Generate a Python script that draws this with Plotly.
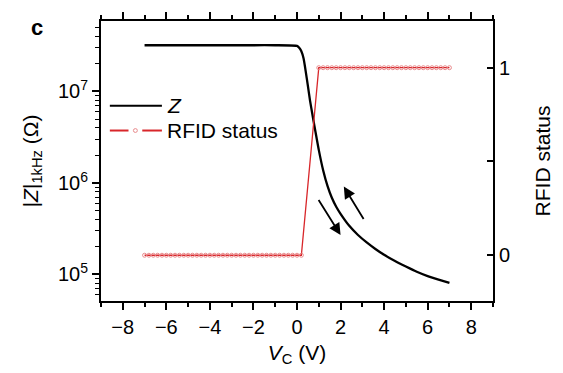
import plotly.graph_objects as go

# Impedance |Z| at 1 kHz versus control voltage
v_z = [-7, -6, -5, -4, -3, -2, -1, 0, 0.1, 0.2, 0.3, 0.4, 0.5, 0.6, 0.7, 0.8, 0.9,
       1.0, 1.2, 1.4, 1.6, 1.8, 2.0, 2.4, 2.8, 3.2, 3.6, 4.0, 4.5, 5.0, 5.5,
       6.0, 6.5, 7.0]
z_ohm = [3.2e7, 3.2e7, 3.2e7, 3.2e7, 3.2e7, 3.2e7, 3.2e7, 3.15e7, 3.0e7, 2.75e7,
         2.3e7, 1.66e7, 1.15e7, 7.9e6, 5.75e6, 4.2e6, 3.1e6,
         2.3e6, 1.38e6, 9.3e5, 6.9e5, 5.5e5, 4.6e5, 3.4e5, 2.7e5, 2.24e5, 1.9e5,
         1.64e5, 1.4e5, 1.22e5, 1.07e5, 9.6e4, 8.8e4, 8.1e4]

# RFID read status (0 = off, 1 = on), sampled every 0.2 V
v_off = [round(-7 + 0.2 * i, 1) for i in range(37)]      # -7.0 ... 0.2
v_on = [round(1.0 + 0.2 * i, 1) for i in range(31)]      # 1.0 ... 7.0
v_rfid = v_off + v_on
rfid_status = [0] * len(v_off) + [1] * len(v_on)

x_ticks = [-8, -6, -4, -2, 0, 2, 4, 6, 8]
z_ticks = [1e5, 1e6, 1e7]
z_tick_text = ["10<sup>5</sup>", "10<sup>6</sup>", "10<sup>7</sup>"]
z_minor = [k * 10 ** n for n in (4, 5, 6, 7) for k in range(2, 10)]

FONT = "Liberation Sans, Arial, sans-serif"
RED = "#d8262a"
PINK = "#e98a8c"

fig = go.Figure()

fig.add_trace(go.Scatter(
    x=v_z, y=z_ohm, mode="lines", name="Z",
    line=dict(color="black", width=2.3, shape="spline", smoothing=0.5),
    showlegend=False, yaxis="y"))

fig.add_trace(go.Scatter(
    x=v_rfid, y=rfid_status, mode="lines+markers", name="RFID status",
    line=dict(color=RED, width=1.3),
    marker=dict(symbol="circle-open", size=4, color=PINK, line=dict(width=1, color=PINK)),
    showlegend=False, yaxis="y2"))

axis_common = dict(showline=True, linecolor="black", linewidth=2, showgrid=False,
                   zeroline=False, tickcolor="black", tickwidth=1.5,
                   tickfont=dict(family=FONT, size=20, color="black"))

fig.update_layout(
    width=563, height=373,
    margin=dict(l=101, r=63, t=13, b=66),
    paper_bgcolor="white", plot_bgcolor="white",
    font=dict(family=FONT, color="black"),
    xaxis=dict(**axis_common, range=[-9, 9], tickvals=x_ticks, ticks="outside",
               ticklen=7, mirror="ticks",
               minor=dict(dtick=1, tick0=-9, ticks="outside", ticklen=4,
                          tickwidth=1.5, tickcolor="black"),
               title=dict(text="<i>V</i><sub>C</sub> (V)", standoff=8,
                          font=dict(family=FONT, size=21))),
    yaxis=dict(**axis_common, type="log", range=[4.71, 7.77], tickvals=z_ticks,
               ticktext=z_tick_text, ticks="outside", ticklen=7,
               minor=dict(tickvals=z_minor, ticks="outside", ticklen=4,
                          tickwidth=1.2, tickcolor="black"),
               title=dict(text="|<i>Z</i>|<sub>1kHz</sub> (Ω)", standoff=14,
                          font=dict(family=FONT, size=21))),
    yaxis2=dict(**axis_common, overlaying="y", side="right", range=[-0.244, 1.249],
                tickvals=[0, 1], ticks="inside", ticklen=6,
                minor=dict(tickvals=[0.5], ticks="inside", ticklen=6,
                           tickwidth=1.5, tickcolor="black"),
                title=dict(text="RFID status", standoff=26,
                           font=dict(family=FONT, size=21))),
)

# Hand-drawn legend in the upper-left corner of the plot area
def px_x(p):
    return (p - 101) / 399

def px_y(p):
    return (307 - p) / 294

shapes = [
    dict(type="line", xref="paper", yref="paper", x0=px_x(110), x1=px_x(163),
         y0=px_y(102), y1=px_y(102), line=dict(color="black", width=2)),
    dict(type="line", xref="paper", yref="paper", x0=px_x(110), x1=px_x(129),
         y0=px_y(128), y1=px_y(128), line=dict(color=RED, width=2)),
    dict(type="line", xref="paper", yref="paper", x0=px_x(143), x1=px_x(163),
         y0=px_y(128), y1=px_y(128), line=dict(color=RED, width=2)),
    dict(type="circle", xref="paper", yref="paper", x0=px_x(134), x1=px_x(138),
         y0=px_y(126), y1=px_y(130), line=dict(color=PINK, width=1)),
]
fig.update_layout(shapes=shapes)

fig.add_annotation(x=px_x(166), y=px_y(102), xref="paper", yref="paper",
                   text="<i>Z</i>", showarrow=False, xanchor="left", yanchor="middle",
                   font=dict(family=FONT, size=21, color="black"))
fig.add_annotation(x=px_x(166), y=px_y(128), xref="paper", yref="paper",
                   text="RFID status", showarrow=False, xanchor="left", yanchor="middle",
                   font=dict(family=FONT, size=21, color="black"))

# Panel label
fig.add_annotation(x=px_x(36), y=px_y(20), xref="paper", yref="paper",
                   text="<b>c</b>", showarrow=False, xanchor="center", yanchor="middle",
                   font=dict(family=FONT, size=22, color="black"))

# Sweep-direction arrows (log axis positions are given as log10 values)
fig.add_annotation(x=2.0, y=5.43, ax=0.95, ay=5.83, xref="x", yref="y",
                   axref="x", ayref="y", text="", showarrow=True, arrowhead=2,
                   arrowsize=1.3, arrowwidth=1.8, arrowcolor="black")
fig.add_annotation(x=2.15, y=5.96, ax=3.1, ay=5.59, xref="x", yref="y",
                   axref="x", ayref="y", text="", showarrow=True, arrowhead=2,
                   arrowsize=1.3, arrowwidth=1.8, arrowcolor="black")

fig.write_html("out.html")
